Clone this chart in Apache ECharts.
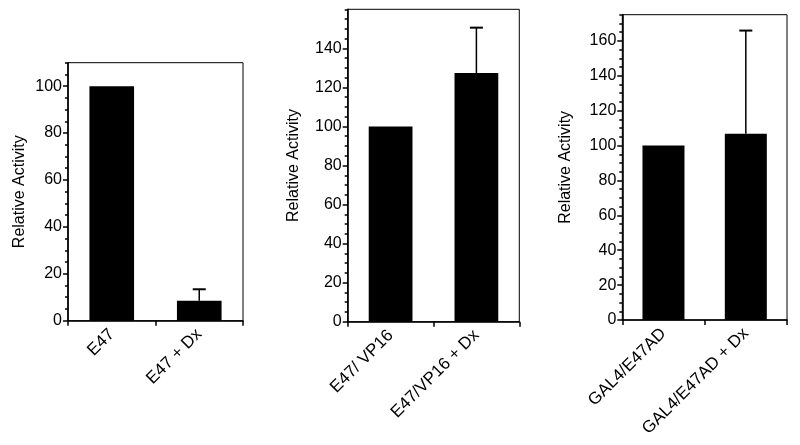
<!DOCTYPE html>
<html>
<head>
<meta charset="utf-8">
<script src="https://cdn.jsdelivr.net/npm/echarts@6/dist/echarts.min.js"></script>
<style>html,body{margin:0;padding:0;background:#fff}#c{width:800px;height:445px}</style>
</head>
<body>
<div id="c"></div>
<script>
// Panel 1
var categories1 = ['E47', 'E47 + Dx'];
var values1 = [100, 8.5];
var errTop1 = [null, 13.4];
var yMax1 = 110;
var yTicks1 = [0, 20, 40, 60, 80, 100];
// Panel 2
var categories2 = ['E47/ VP16', 'E47/VP16 + Dx'];
var values2 = [100, 127.4];
var errTop2 = [null, 150.6];
var yMax2 = 160;
var yTicks2 = [0, 20, 40, 60, 80, 100, 120, 140];
// Panel 3
var categories3 = ['GAL4/E47AD', 'GAL4/E47AD + Dx'];
var values3 = [100, 106.8];
var errTop3 = [null, 165.9];
var yMax3 = 175;
var yTicks3 = [0, 20, 40, 60, 80, 100, 120, 140, 160];

var yName = 'Relative Activity';
var FONT = 'Liberation Sans, Arial, Helvetica, sans-serif';

var panels = [
  {cats: categories1, vals: values1, err: errTop1, max: yMax1, ticks: yTicks1,
   grid: {left: 68, top: 62.7, right: 557, bottom: 124.3}, gap: 40},
  {cats: categories2, vals: values2, err: errTop2, max: yMax2, ticks: yTicks2,
   grid: {left: 347.7, top: 9.3, right: 280.7, bottom: 123.3}, gap: 46},
  {cats: categories3, vals: values3, err: errTop3, max: yMax3, ticks: yTicks3,
   grid: {left: 622.3, top: 14.7, right: 13, bottom: 125}, gap: 49}
];

var grids = [], xAxes = [], yAxes = [], series = [];
panels.forEach(function (p, i) {
  grids.push(Object.assign({show: true, borderColor: '#000', borderWidth: 1, backgroundColor: 'transparent'}, p.grid));
  xAxes.push({
    type: 'category', gridIndex: i, data: p.cats, boundaryGap: true,
    axisLine: {lineStyle: {color: '#000', width: 1.6}},
    axisTick: {show: true, alignWithLabel: false, interval: 0, length: 5, lineStyle: {color: '#000', width: 1.5}},
    axisLabel: {interval: 0, rotate: 45, margin: 11, color: '#000', fontSize: 17, fontFamily: FONT},
    splitLine: {show: false}
  });
  // major axis: labels, long ticks, name
  yAxes.push({
    type: 'value', gridIndex: i, min: 0, max: p.max, interval: 20, position: 'left',
    name: yName, nameLocation: 'middle', nameGap: p.gap, nameRotate: 90,
    nameTextStyle: {color: '#000', fontSize: 16, fontFamily: FONT},
    axisLine: {show: true, lineStyle: {color: '#000', width: 1.6}},
    axisTick: {show: true, length: 5, customValues: p.ticks, lineStyle: {color: '#000', width: 1.5}},
    axisLabel: {color: '#000', fontSize: 16, fontFamily: FONT, margin: 6, customValues: p.ticks},
    splitLine: {show: false}
  });
  // minor ticks axis
  yAxes.push({
    type: 'value', gridIndex: i, min: 0, max: p.max, interval: 5, position: 'left',
    axisLine: {show: false},
    axisTick: {show: true, length: 3, lineStyle: {color: '#000', width: 1.5}},
    axisLabel: {show: false},
    splitLine: {show: false}
  });
  series.push({
    type: 'bar', xAxisIndex: i, yAxisIndex: i * 2, data: p.vals,
    barWidth: '51%', itemStyle: {color: '#000'}, silent: true, animation: false
  });
  var errData = [];
  p.err.forEach(function (e, k) { if (e != null) errData.push([k, p.vals[k], e]); });
  series.push({
    type: 'custom', xAxisIndex: i, yAxisIndex: i * 2, data: errData, animation: false, silent: true,
    encode: {x: 0, y: [1, 2]},
    renderItem: function (params, api) {
      var base = api.coord([api.value(0), api.value(1)]);
      var top = api.coord([api.value(0), api.value(2)]);
      var hw = 6.5;
      return {
        type: 'group',
        children: [
          {type: 'line', shape: {x1: base[0], y1: base[1], x2: top[0], y2: top[1]},
           style: {stroke: '#000', lineWidth: 1.5}},
          {type: 'line', shape: {x1: top[0] - hw, y1: top[1], x2: top[0] + hw, y2: top[1]},
           style: {stroke: '#000', lineWidth: 2}}
        ]
      };
    }
  });
});

var chart = echarts.init(document.getElementById('c'), null, {renderer: 'canvas'});
chart.setOption({
  animation: false,
  backgroundColor: '#fff',
  grid: grids, xAxis: xAxes, yAxis: yAxes, series: series
});
</script>
</body>
</html>
